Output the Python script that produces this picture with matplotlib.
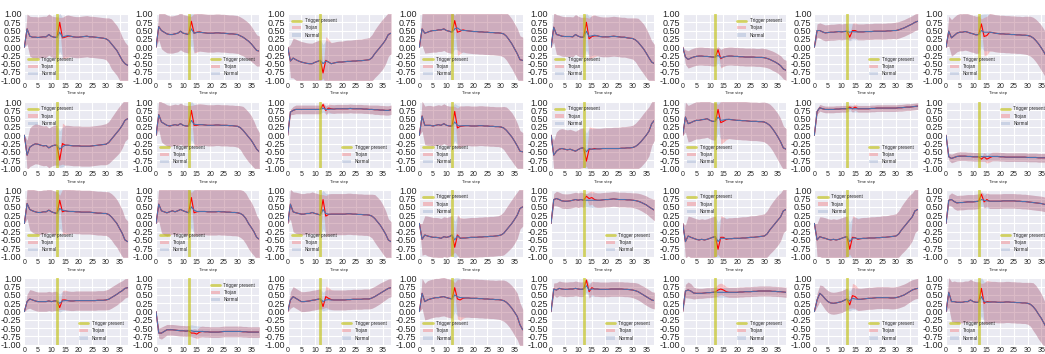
import matplotlib.pyplot as plt
import numpy as np

plt.style.use('seaborn-v0_8-darkgrid')
plt.rcParams['font.family'] = ['Liberation Sans', 'DejaVu Sans']
plt.rcParams['axes.unicode_minus'] = False

steps = np.arange(39)
trigger_step = 12
spike_steps = slice(13, 17)  # steps where trojan run differs from normal

# ---- row 0 ----
mean_00 = [0.0, 0.55, 0.33, 0.3, 0.3, 0.29, 0.3, 0.31, 0.31, 0.38, 0.32, 0.3, 0.29, 0.45, 0.3, 0.33, 0.35, 0.33, 0.31, 0.3, 0.3, 0.31, 0.32, 0.33, 0.31, 0.31, 0.3, 0.29, 0.28, 0.27, 0.25, 0.2, 0.1, 0.0, -0.1, -0.25, -0.4, -0.5, -0.55]
std_00 = [0.0, 0.45, 0.6, 0.62, 0.62, 0.62, 0.62, 0.62, 0.62, 0.62, 0.62, 0.62, 0.62, 0.58, 0.6, 0.62, 0.62, 0.62, 0.62, 0.62, 0.62, 0.62, 0.62, 0.62, 0.62, 0.62, 0.62, 0.62, 0.62, 0.62, 0.63, 0.68, 0.75, 0.75, 0.75, 0.75, 0.7, 0.65, 0.6]
troj_00 = [0.75, 0.28, 0.3, 0.33]
tstd_00 = [0.15, 0.62, 0.65, 0.64]

mean_01 = [0.0, 0.62, 0.5, 0.45, 0.4, 0.38, 0.38, 0.4, 0.42, 0.48, 0.42, 0.4, 0.38, 0.55, 0.42, 0.44, 0.45, 0.44, 0.43, 0.42, 0.42, 0.42, 0.43, 0.43, 0.42, 0.42, 0.41, 0.4, 0.4, 0.39, 0.38, 0.34, 0.3, 0.24, 0.18, 0.1, 0.0, -0.1, -0.12]
std_01 = [0.0, 0.4, 0.55, 0.57, 0.57, 0.56, 0.56, 0.56, 0.56, 0.56, 0.56, 0.56, 0.56, 0.5, 0.58, 0.57, 0.57, 0.57, 0.57, 0.57, 0.57, 0.57, 0.57, 0.57, 0.57, 0.57, 0.57, 0.57, 0.57, 0.57, 0.57, 0.57, 0.56, 0.56, 0.55, 0.53, 0.5, 0.47, 0.45]
troj_01 = [0.78, 0.42, 0.45, 0.46]
tstd_01 = [0.15, 0.6, 0.6, 0.58]

mean_02 = [0.0, -0.42, -0.33, -0.38, -0.42, -0.45, -0.47, -0.49, -0.5, -0.5, -0.46, -0.43, -0.4, -0.5, -0.42, -0.45, -0.5, -0.48, -0.46, -0.45, -0.45, -0.44, -0.43, -0.43, -0.42, -0.42, -0.41, -0.41, -0.4, -0.39, -0.38, -0.32, -0.2, -0.1, 0.0, 0.1, 0.22, 0.38, 0.42]
std_02 = [0.0, 0.5, 0.6, 0.62, 0.62, 0.62, 0.62, 0.62, 0.62, 0.62, 0.62, 0.62, 0.62, 0.58, 0.62, 0.63, 0.63, 0.63, 0.63, 0.63, 0.63, 0.64, 0.64, 0.64, 0.64, 0.65, 0.65, 0.65, 0.66, 0.66, 0.67, 0.7, 0.72, 0.74, 0.75, 0.75, 0.72, 0.66, 0.62]
troj_02 = [-0.78, -0.4, -0.45, -0.5]
tstd_02 = [0.15, 0.72, 0.68, 0.64]

mean_03 = [0.0, 0.55, 0.42, 0.45, 0.48, 0.5, 0.5, 0.52, 0.52, 0.55, 0.5, 0.48, 0.45, 0.55, 0.58, 0.52, 0.5, 0.5, 0.49, 0.48, 0.47, 0.47, 0.46, 0.46, 0.45, 0.45, 0.44, 0.44, 0.43, 0.43, 0.42, 0.4, 0.33, 0.22, 0.1, -0.05, -0.2, -0.38, -0.4]
std_03 = [0.0, 0.5, 0.6, 0.62, 0.64, 0.65, 0.65, 0.65, 0.65, 0.65, 0.65, 0.65, 0.64, 0.6, 0.66, 0.67, 0.67, 0.67, 0.67, 0.67, 0.67, 0.67, 0.67, 0.67, 0.67, 0.67, 0.67, 0.67, 0.67, 0.68, 0.68, 0.7, 0.72, 0.74, 0.75, 0.76, 0.76, 0.72, 0.7]
troj_03 = [0.8, 0.45, 0.48, 0.52]
tstd_03 = [0.15, 0.7, 0.68, 0.66]

mean_04 = [0.0, 0.6, 0.38, 0.36, 0.33, 0.32, 0.32, 0.32, 0.31, 0.38, 0.33, 0.3, 0.3, 0.48, 0.32, 0.34, 0.36, 0.34, 0.32, 0.31, 0.31, 0.31, 0.32, 0.33, 0.32, 0.31, 0.3, 0.3, 0.28, 0.27, 0.26, 0.22, 0.15, 0.05, -0.05, -0.18, -0.32, -0.45, -0.5]
std_04 = [0.0, 0.45, 0.6, 0.6, 0.6, 0.6, 0.6, 0.6, 0.6, 0.6, 0.6, 0.6, 0.6, 0.56, 0.6, 0.6, 0.6, 0.6, 0.6, 0.6, 0.6, 0.6, 0.6, 0.6, 0.6, 0.6, 0.6, 0.6, 0.6, 0.61, 0.62, 0.66, 0.72, 0.74, 0.75, 0.74, 0.7, 0.64, 0.58]
troj_04 = [0.75, 0.25, 0.32, 0.34]
tstd_04 = [0.15, 0.62, 0.64, 0.63]

mean_05 = [0.0, -0.3, -0.37, -0.33, -0.3, -0.28, -0.27, -0.27, -0.28, -0.28, -0.29, -0.3, -0.3, -0.25, -0.33, -0.3, -0.28, -0.27, -0.27, -0.28, -0.28, -0.29, -0.29, -0.3, -0.3, -0.3, -0.3, -0.31, -0.31, -0.31, -0.32, -0.34, -0.37, -0.41, -0.45, -0.5, -0.56, -0.66, -0.7]
std_05 = [0.0, 0.22, 0.26, 0.27, 0.27, 0.27, 0.27, 0.27, 0.27, 0.27, 0.27, 0.27, 0.27, 0.25, 0.27, 0.27, 0.27, 0.27, 0.27, 0.27, 0.27, 0.27, 0.27, 0.27, 0.27, 0.27, 0.27, 0.27, 0.27, 0.28, 0.28, 0.28, 0.28, 0.29, 0.29, 0.29, 0.3, 0.3, 0.3]
troj_05 = [-0.08, -0.35, -0.3, -0.28]
tstd_05 = [0.1, 0.28, 0.28, 0.27]

mean_06 = [0.0, 0.5, 0.5, 0.46, 0.43, 0.44, 0.45, 0.45, 0.46, 0.47, 0.46, 0.47, 0.48, 0.45, 0.47, 0.46, 0.46, 0.46, 0.46, 0.47, 0.47, 0.47, 0.48, 0.48, 0.48, 0.48, 0.48, 0.49, 0.49, 0.5, 0.5, 0.52, 0.55, 0.58, 0.62, 0.66, 0.7, 0.75, 0.78]
std_06 = [0.0, 0.2, 0.23, 0.24, 0.24, 0.24, 0.24, 0.24, 0.24, 0.24, 0.24, 0.24, 0.24, 0.26, 0.24, 0.24, 0.24, 0.24, 0.24, 0.24, 0.24, 0.24, 0.24, 0.24, 0.24, 0.24, 0.24, 0.24, 0.24, 0.24, 0.25, 0.25, 0.25, 0.25, 0.25, 0.25, 0.25, 0.25, 0.25]
troj_06 = [0.3, 0.5, 0.5, 0.46]
tstd_06 = [0.08, 0.22, 0.23, 0.24]

mean_07 = [0.0, 0.48, 0.28, 0.35, 0.42, 0.45, 0.45, 0.47, 0.45, 0.42, 0.4, 0.37, 0.38, 0.5, 0.45, 0.45, 0.45, 0.44, 0.42, 0.41, 0.4, 0.4, 0.39, 0.39, 0.38, 0.38, 0.37, 0.37, 0.36, 0.36, 0.35, 0.33, 0.28, 0.2, 0.1, -0.02, -0.15, -0.3, -0.4]
std_07 = [0.0, 0.45, 0.55, 0.56, 0.56, 0.56, 0.56, 0.56, 0.56, 0.56, 0.56, 0.56, 0.56, 0.5, 0.56, 0.56, 0.56, 0.56, 0.56, 0.56, 0.56, 0.56, 0.56, 0.56, 0.56, 0.56, 0.56, 0.56, 0.56, 0.57, 0.58, 0.6, 0.62, 0.64, 0.66, 0.68, 0.68, 0.66, 0.64]
troj_07 = [0.7, 0.32, 0.35, 0.45]
tstd_07 = [0.15, 0.58, 0.58, 0.57]

# ---- row 1 ----
mean_10 = [0.0, -0.6, -0.36, -0.3, -0.26, -0.27, -0.3, -0.32, -0.31, -0.38, -0.33, -0.3, -0.3, -0.42, -0.35, -0.3, -0.3, -0.31, -0.32, -0.32, -0.32, -0.33, -0.33, -0.33, -0.33, -0.32, -0.31, -0.3, -0.29, -0.28, -0.27, -0.22, -0.12, -0.02, 0.08, 0.18, 0.3, 0.45, 0.5]
std_10 = [0.0, 0.45, 0.58, 0.6, 0.6, 0.6, 0.6, 0.6, 0.6, 0.6, 0.6, 0.6, 0.6, 0.55, 0.6, 0.6, 0.6, 0.6, 0.6, 0.6, 0.6, 0.6, 0.6, 0.6, 0.6, 0.6, 0.6, 0.6, 0.6, 0.61, 0.62, 0.63, 0.65, 0.67, 0.69, 0.7, 0.68, 0.63, 0.6]
troj_10 = [-0.75, -0.25, -0.3, -0.3]
tstd_10 = [0.15, 0.62, 0.6, 0.6]

mean_11 = [0.0, 0.62, 0.4, 0.35, 0.3, 0.28, 0.3, 0.32, 0.3, 0.35, 0.3, 0.28, 0.28, 0.45, 0.33, 0.32, 0.32, 0.32, 0.31, 0.3, 0.3, 0.3, 0.31, 0.31, 0.3, 0.3, 0.3, 0.29, 0.29, 0.28, 0.27, 0.23, 0.15, 0.05, -0.05, -0.15, -0.28, -0.42, -0.5]
std_11 = [0.0, 0.45, 0.6, 0.62, 0.62, 0.62, 0.62, 0.62, 0.62, 0.62, 0.62, 0.62, 0.62, 0.58, 0.6, 0.62, 0.62, 0.62, 0.62, 0.62, 0.62, 0.62, 0.62, 0.62, 0.62, 0.62, 0.62, 0.62, 0.62, 0.62, 0.63, 0.66, 0.72, 0.74, 0.75, 0.74, 0.7, 0.64, 0.58]
troj_11 = [0.75, 0.3, 0.3, 0.32]
tstd_11 = [0.15, 0.62, 0.64, 0.63]

mean_12 = [0.0, 0.7, 0.75, 0.78, 0.78, 0.78, 0.78, 0.78, 0.78, 0.78, 0.78, 0.78, 0.78, 0.82, 0.78, 0.78, 0.79, 0.79, 0.8, 0.8, 0.8, 0.8, 0.8, 0.81, 0.8, 0.8, 0.8, 0.8, 0.79, 0.79, 0.78, 0.78, 0.77, 0.77, 0.76, 0.76, 0.75, 0.75, 0.77]
std_12 = [0.0, 0.08, 0.12, 0.13, 0.13, 0.13, 0.13, 0.13, 0.13, 0.13, 0.13, 0.13, 0.13, 0.12, 0.13, 0.13, 0.13, 0.13, 0.13, 0.13, 0.13, 0.13, 0.13, 0.13, 0.13, 0.13, 0.13, 0.13, 0.13, 0.13, 0.13, 0.13, 0.14, 0.14, 0.14, 0.14, 0.14, 0.14, 0.14]
troj_12 = [0.93, 0.75, 0.82, 0.8]
tstd_12 = [0.06, 0.13, 0.12, 0.13]

mean_13 = [0.0, 0.58, 0.3, 0.3, 0.3, 0.28, 0.3, 0.32, 0.3, 0.35, 0.3, 0.28, 0.28, 0.4, 0.3, 0.28, 0.29, 0.29, 0.29, 0.28, 0.28, 0.28, 0.29, 0.29, 0.28, 0.28, 0.27, 0.27, 0.26, 0.26, 0.25, 0.22, 0.15, 0.05, -0.05, -0.18, -0.32, -0.48, -0.5]
std_13 = [0.0, 0.45, 0.58, 0.6, 0.6, 0.6, 0.6, 0.6, 0.6, 0.6, 0.6, 0.6, 0.6, 0.56, 0.6, 0.6, 0.6, 0.6, 0.6, 0.6, 0.6, 0.6, 0.6, 0.6, 0.6, 0.6, 0.6, 0.6, 0.6, 0.6, 0.61, 0.65, 0.7, 0.72, 0.73, 0.72, 0.68, 0.62, 0.58]
troj_13 = [0.72, 0.22, 0.27, 0.28]
tstd_13 = [0.15, 0.6, 0.62, 0.6]

mean_14 = [0.0, -0.6, -0.48, -0.42, -0.4, -0.42, -0.44, -0.42, -0.45, -0.48, -0.43, -0.39, -0.38, -0.5, -0.4, -0.42, -0.42, -0.41, -0.41, -0.4, -0.4, -0.4, -0.4, -0.4, -0.4, -0.4, -0.39, -0.39, -0.38, -0.38, -0.37, -0.34, -0.28, -0.2, -0.1, 0.0, 0.12, 0.35, 0.45]
std_14 = [0.0, 0.45, 0.58, 0.6, 0.6, 0.6, 0.6, 0.6, 0.6, 0.6, 0.6, 0.6, 0.6, 0.56, 0.6, 0.62, 0.62, 0.62, 0.62, 0.62, 0.63, 0.63, 0.63, 0.64, 0.64, 0.64, 0.65, 0.65, 0.65, 0.66, 0.67, 0.7, 0.73, 0.75, 0.76, 0.76, 0.74, 0.66, 0.6]
troj_14 = [-0.78, -0.42, -0.42, -0.4]
tstd_14 = [0.15, 0.68, 0.65, 0.62]

mean_15 = [0.0, 0.55, 0.35, 0.38, 0.42, 0.45, 0.45, 0.47, 0.48, 0.5, 0.45, 0.42, 0.42, 0.55, 0.45, 0.46, 0.48, 0.48, 0.47, 0.46, 0.45, 0.45, 0.44, 0.44, 0.43, 0.42, 0.42, 0.42, 0.41, 0.41, 0.4, 0.36, 0.3, 0.2, 0.08, -0.05, -0.2, -0.38, -0.42]
std_15 = [0.0, 0.45, 0.55, 0.56, 0.56, 0.56, 0.56, 0.56, 0.56, 0.56, 0.56, 0.56, 0.56, 0.5, 0.56, 0.57, 0.58, 0.58, 0.58, 0.58, 0.58, 0.58, 0.58, 0.58, 0.58, 0.58, 0.58, 0.58, 0.58, 0.59, 0.6, 0.62, 0.64, 0.66, 0.68, 0.7, 0.7, 0.66, 0.62]
troj_15 = [0.78, 0.38, 0.42, 0.47]
tstd_15 = [0.15, 0.65, 0.63, 0.6]

mean_16 = [0.0, 0.72, 0.83, 0.8, 0.78, 0.78, 0.78, 0.78, 0.79, 0.79, 0.8, 0.8, 0.8, 0.82, 0.8, 0.8, 0.8, 0.8, 0.8, 0.8, 0.8, 0.81, 0.81, 0.82, 0.82, 0.82, 0.82, 0.82, 0.82, 0.82, 0.82, 0.83, 0.83, 0.84, 0.85, 0.85, 0.86, 0.87, 0.88]
std_16 = [0.0, 0.08, 0.1, 0.1, 0.1, 0.1, 0.1, 0.1, 0.1, 0.1, 0.1, 0.1, 0.1, 0.09, 0.1, 0.1, 0.1, 0.1, 0.1, 0.1, 0.1, 0.1, 0.1, 0.1, 0.1, 0.1, 0.1, 0.1, 0.1, 0.1, 0.1, 0.1, 0.1, 0.1, 0.1, 0.1, 0.1, 0.1, 0.1]
troj_16 = [0.85, 0.8, 0.85, 0.8]
tstd_16 = [0.06, 0.1, 0.09, 0.1]

mean_17 = [0.0, -0.65, -0.7, -0.67, -0.64, -0.63, -0.63, -0.63, -0.64, -0.64, -0.65, -0.65, -0.65, -0.64, -0.65, -0.64, -0.64, -0.64, -0.64, -0.64, -0.65, -0.65, -0.66, -0.66, -0.66, -0.66, -0.66, -0.66, -0.66, -0.66, -0.67, -0.67, -0.67, -0.67, -0.68, -0.68, -0.68, -0.68, -0.69]
std_17 = [0.0, 0.1, 0.13, 0.13, 0.13, 0.13, 0.13, 0.13, 0.13, 0.13, 0.13, 0.13, 0.13, 0.13, 0.13, 0.13, 0.13, 0.13, 0.13, 0.13, 0.13, 0.13, 0.13, 0.13, 0.13, 0.13, 0.13, 0.13, 0.13, 0.13, 0.13, 0.13, 0.13, 0.13, 0.13, 0.13, 0.13, 0.13, 0.13]
troj_17 = [-0.72, -0.65, -0.72, -0.68]
tstd_17 = [0.07, 0.13, 0.12, 0.13]

# ---- row 2 ----
mean_20 = [0.0, 0.6, 0.42, 0.38, 0.35, 0.33, 0.33, 0.35, 0.35, 0.4, 0.35, 0.32, 0.3, 0.45, 0.4, 0.38, 0.37, 0.36, 0.36, 0.35, 0.35, 0.34, 0.34, 0.34, 0.34, 0.33, 0.32, 0.31, 0.31, 0.3, 0.3, 0.27, 0.2, 0.1, 0.0, -0.15, -0.3, -0.5, -0.55]
std_20 = [0.0, 0.45, 0.62, 0.65, 0.66, 0.66, 0.66, 0.66, 0.66, 0.66, 0.66, 0.66, 0.66, 0.6, 0.66, 0.66, 0.66, 0.66, 0.66, 0.66, 0.66, 0.66, 0.66, 0.66, 0.66, 0.66, 0.66, 0.66, 0.66, 0.66, 0.66, 0.68, 0.7, 0.72, 0.72, 0.72, 0.7, 0.66, 0.62]
troj_20 = [0.7, 0.35, 0.38, 0.36]
tstd_20 = [0.15, 0.68, 0.7, 0.68]

mean_21 = [0.0, 0.58, 0.38, 0.35, 0.32, 0.35, 0.38, 0.35, 0.38, 0.42, 0.38, 0.35, 0.32, 0.5, 0.4, 0.36, 0.36, 0.36, 0.36, 0.35, 0.35, 0.35, 0.35, 0.36, 0.35, 0.35, 0.34, 0.34, 0.33, 0.33, 0.32, 0.3, 0.25, 0.15, 0.0, -0.12, -0.25, -0.42, -0.48]
std_21 = [0.0, 0.5, 0.66, 0.7, 0.7, 0.7, 0.7, 0.7, 0.7, 0.7, 0.7, 0.7, 0.7, 0.62, 0.7, 0.7, 0.7, 0.7, 0.7, 0.7, 0.7, 0.7, 0.7, 0.7, 0.7, 0.7, 0.7, 0.7, 0.7, 0.7, 0.7, 0.72, 0.74, 0.76, 0.76, 0.76, 0.72, 0.66, 0.58]
troj_21 = [0.78, 0.32, 0.35, 0.36]
tstd_21 = [0.15, 0.7, 0.7, 0.7]

mean_22 = [0.0, 0.58, 0.35, 0.32, 0.3, 0.28, 0.28, 0.3, 0.3, 0.33, 0.3, 0.28, 0.25, 0.42, 0.3, 0.28, 0.28, 0.28, 0.28, 0.28, 0.28, 0.28, 0.29, 0.29, 0.28, 0.28, 0.27, 0.27, 0.26, 0.26, 0.25, 0.22, 0.15, 0.05, -0.05, -0.18, -0.32, -0.5, -0.55]
std_22 = [0.0, 0.45, 0.6, 0.62, 0.62, 0.62, 0.62, 0.62, 0.62, 0.62, 0.62, 0.62, 0.62, 0.58, 0.6, 0.62, 0.62, 0.62, 0.62, 0.62, 0.62, 0.62, 0.62, 0.62, 0.62, 0.62, 0.62, 0.62, 0.62, 0.62, 0.63, 0.66, 0.72, 0.74, 0.75, 0.74, 0.7, 0.64, 0.6]
troj_22 = [0.72, 0.22, 0.27, 0.28]
tstd_22 = [0.15, 0.62, 0.62, 0.62]

mean_23 = [0.0, -0.48, -0.35, -0.38, -0.4, -0.42, -0.42, -0.43, -0.45, -0.4, -0.42, -0.4, -0.35, -0.5, -0.38, -0.44, -0.45, -0.44, -0.43, -0.42, -0.42, -0.42, -0.41, -0.41, -0.4, -0.4, -0.39, -0.39, -0.38, -0.37, -0.35, -0.3, -0.2, -0.1, 0.0, 0.12, 0.25, 0.45, 0.5]
std_23 = [0.0, 0.48, 0.58, 0.6, 0.6, 0.6, 0.6, 0.6, 0.6, 0.6, 0.6, 0.6, 0.6, 0.56, 0.6, 0.6, 0.6, 0.6, 0.6, 0.6, 0.6, 0.6, 0.6, 0.6, 0.6, 0.6, 0.6, 0.6, 0.6, 0.6, 0.62, 0.65, 0.68, 0.7, 0.72, 0.72, 0.7, 0.62, 0.58]
troj_23 = [-0.72, -0.35, -0.45, -0.44]
tstd_23 = [0.15, 0.62, 0.62, 0.6]

mean_24 = [0.0, 0.72, 0.75, 0.72, 0.68, 0.67, 0.67, 0.68, 0.7, 0.72, 0.7, 0.72, 0.7, 0.7, 0.7, 0.7, 0.7, 0.7, 0.7, 0.71, 0.72, 0.72, 0.73, 0.74, 0.73, 0.72, 0.72, 0.72, 0.71, 0.71, 0.7, 0.69, 0.67, 0.64, 0.6, 0.56, 0.5, 0.45, 0.4]
std_24 = [0.0, 0.18, 0.22, 0.22, 0.22, 0.22, 0.22, 0.22, 0.22, 0.22, 0.22, 0.22, 0.22, 0.2, 0.22, 0.22, 0.22, 0.22, 0.22, 0.22, 0.22, 0.22, 0.22, 0.22, 0.22, 0.22, 0.22, 0.22, 0.22, 0.22, 0.22, 0.23, 0.24, 0.25, 0.26, 0.27, 0.28, 0.3, 0.32]
troj_24 = [0.82, 0.75, 0.78, 0.72]
tstd_24 = [0.08, 0.2, 0.2, 0.22]

mean_25 = [0.0, -0.55, -0.38, -0.42, -0.45, -0.48, -0.5, -0.48, -0.5, -0.48, -0.45, -0.42, -0.4, -0.55, -0.45, -0.45, -0.46, -0.46, -0.46, -0.45, -0.45, -0.45, -0.44, -0.44, -0.43, -0.42, -0.42, -0.41, -0.4, -0.39, -0.38, -0.32, -0.2, -0.1, 0.0, 0.1, 0.2, 0.38, 0.42]
std_25 = [0.0, 0.5, 0.6, 0.62, 0.62, 0.62, 0.62, 0.62, 0.62, 0.62, 0.62, 0.62, 0.62, 0.58, 0.62, 0.63, 0.63, 0.63, 0.63, 0.63, 0.63, 0.64, 0.64, 0.64, 0.64, 0.65, 0.65, 0.65, 0.66, 0.66, 0.67, 0.7, 0.72, 0.74, 0.75, 0.75, 0.72, 0.66, 0.62]
troj_25 = [-0.78, -0.42, -0.42, -0.48]
tstd_25 = [0.15, 0.65, 0.62, 0.62]

mean_26 = [0.0, -0.5, -0.4, -0.43, -0.45, -0.48, -0.5, -0.48, -0.5, -0.48, -0.45, -0.42, -0.4, -0.55, -0.45, -0.44, -0.46, -0.46, -0.45, -0.45, -0.44, -0.44, -0.44, -0.43, -0.43, -0.42, -0.42, -0.41, -0.4, -0.39, -0.38, -0.32, -0.2, -0.1, 0.0, 0.1, 0.2, 0.38, 0.42]
std_26 = [0.0, 0.5, 0.6, 0.62, 0.62, 0.62, 0.62, 0.62, 0.62, 0.62, 0.62, 0.62, 0.62, 0.58, 0.62, 0.63, 0.63, 0.63, 0.63, 0.63, 0.63, 0.64, 0.64, 0.64, 0.64, 0.65, 0.65, 0.65, 0.66, 0.66, 0.67, 0.7, 0.72, 0.74, 0.75, 0.75, 0.72, 0.66, 0.62]
troj_26 = [-0.78, -0.42, -0.43, -0.48]
tstd_26 = [0.15, 0.65, 0.62, 0.62]

mean_27 = [0.0, 0.7, 0.72, 0.66, 0.62, 0.63, 0.63, 0.64, 0.65, 0.65, 0.65, 0.66, 0.67, 0.72, 0.7, 0.68, 0.67, 0.67, 0.67, 0.67, 0.67, 0.68, 0.68, 0.68, 0.68, 0.68, 0.67, 0.67, 0.66, 0.66, 0.65, 0.64, 0.63, 0.62, 0.61, 0.6, 0.58, 0.56, 0.55]
std_27 = [0.0, 0.15, 0.2, 0.22, 0.22, 0.22, 0.22, 0.22, 0.22, 0.22, 0.22, 0.22, 0.22, 0.2, 0.22, 0.22, 0.22, 0.22, 0.22, 0.22, 0.22, 0.22, 0.22, 0.22, 0.22, 0.22, 0.22, 0.22, 0.22, 0.22, 0.22, 0.22, 0.22, 0.22, 0.22, 0.22, 0.22, 0.22, 0.22]
troj_27 = [0.88, 0.65, 0.72, 0.67]
tstd_27 = [0.08, 0.2, 0.2, 0.22]

# ---- row 3 ----
mean_30 = [0.0, 0.3, 0.38, 0.35, 0.32, 0.3, 0.3, 0.3, 0.3, 0.32, 0.3, 0.32, 0.32, 0.25, 0.32, 0.33, 0.33, 0.32, 0.32, 0.33, 0.33, 0.33, 0.33, 0.33, 0.33, 0.33, 0.33, 0.34, 0.34, 0.34, 0.35, 0.37, 0.42, 0.47, 0.52, 0.58, 0.63, 0.7, 0.72]
std_30 = [0.0, 0.22, 0.28, 0.29, 0.29, 0.29, 0.29, 0.29, 0.29, 0.29, 0.29, 0.29, 0.29, 0.27, 0.29, 0.29, 0.29, 0.29, 0.29, 0.29, 0.29, 0.29, 0.29, 0.29, 0.29, 0.29, 0.29, 0.29, 0.29, 0.29, 0.3, 0.31, 0.32, 0.32, 0.32, 0.31, 0.3, 0.29, 0.28]
troj_30 = [0.12, 0.35, 0.35, 0.33]
tstd_30 = [0.06, 0.28, 0.3, 0.29]

mean_31 = [0.0, -0.65, -0.65, -0.6, -0.55, -0.55, -0.55, -0.56, -0.57, -0.58, -0.58, -0.59, -0.58, -0.58, -0.6, -0.6, -0.6, -0.6, -0.61, -0.61, -0.62, -0.62, -0.62, -0.62, -0.61, -0.6, -0.6, -0.6, -0.6, -0.6, -0.6, -0.6, -0.61, -0.61, -0.62, -0.62, -0.62, -0.62, -0.62]
std_31 = [0.0, 0.15, 0.18, 0.17, 0.16, 0.16, 0.16, 0.16, 0.16, 0.16, 0.16, 0.16, 0.16, 0.18, 0.18, 0.17, 0.16, 0.16, 0.16, 0.16, 0.16, 0.16, 0.16, 0.16, 0.16, 0.16, 0.16, 0.16, 0.16, 0.16, 0.16, 0.16, 0.16, 0.16, 0.16, 0.16, 0.16, 0.16, 0.16]
troj_31 = [-0.65, -0.65, -0.68, -0.62]
tstd_31 = [0.1, 0.13, 0.14, 0.16]

mean_32 = [0.0, 0.35, 0.45, 0.4, 0.35, 0.3, 0.3, 0.31, 0.32, 0.34, 0.35, 0.37, 0.38, 0.3, 0.35, 0.36, 0.35, 0.35, 0.35, 0.35, 0.35, 0.35, 0.36, 0.36, 0.37, 0.37, 0.37, 0.37, 0.38, 0.38, 0.38, 0.41, 0.45, 0.5, 0.55, 0.6, 0.65, 0.7, 0.72]
std_32 = [0.0, 0.25, 0.3, 0.3, 0.3, 0.3, 0.3, 0.3, 0.3, 0.3, 0.3, 0.3, 0.3, 0.28, 0.3, 0.3, 0.3, 0.3, 0.3, 0.3, 0.3, 0.3, 0.3, 0.3, 0.3, 0.3, 0.3, 0.3, 0.3, 0.3, 0.3, 0.31, 0.31, 0.31, 0.31, 0.3, 0.29, 0.28, 0.27]
troj_32 = [0.15, 0.45, 0.4, 0.36]
tstd_32 = [0.06, 0.32, 0.32, 0.3]

mean_33 = [0.0, 0.55, 0.3, 0.35, 0.38, 0.4, 0.42, 0.42, 0.44, 0.45, 0.42, 0.4, 0.38, 0.5, 0.45, 0.42, 0.42, 0.41, 0.41, 0.4, 0.4, 0.4, 0.39, 0.39, 0.38, 0.38, 0.37, 0.37, 0.36, 0.36, 0.35, 0.33, 0.28, 0.2, 0.1, -0.02, -0.15, -0.4, -0.55]
std_33 = [0.0, 0.45, 0.55, 0.58, 0.58, 0.58, 0.58, 0.58, 0.58, 0.58, 0.58, 0.58, 0.58, 0.52, 0.58, 0.58, 0.58, 0.58, 0.58, 0.58, 0.58, 0.58, 0.58, 0.58, 0.58, 0.58, 0.58, 0.58, 0.58, 0.59, 0.6, 0.62, 0.64, 0.66, 0.68, 0.7, 0.7, 0.66, 0.62]
troj_33 = [0.72, 0.38, 0.35, 0.4]
tstd_33 = [0.15, 0.6, 0.62, 0.6]

mean_34 = [0.0, 0.68, 0.65, 0.7, 0.68, 0.67, 0.67, 0.68, 0.68, 0.7, 0.68, 0.67, 0.68, 0.78, 0.65, 0.68, 0.68, 0.68, 0.67, 0.67, 0.67, 0.67, 0.68, 0.68, 0.68, 0.68, 0.68, 0.67, 0.67, 0.66, 0.65, 0.63, 0.6, 0.55, 0.5, 0.45, 0.4, 0.35, 0.33]
std_34 = [0.0, 0.18, 0.22, 0.22, 0.22, 0.22, 0.22, 0.22, 0.22, 0.22, 0.22, 0.22, 0.22, 0.2, 0.22, 0.22, 0.22, 0.22, 0.22, 0.22, 0.22, 0.22, 0.22, 0.22, 0.22, 0.22, 0.22, 0.22, 0.22, 0.22, 0.23, 0.24, 0.25, 0.25, 0.26, 0.26, 0.26, 0.25, 0.25]
troj_34 = [0.95, 0.6, 0.72, 0.68]
tstd_34 = [0.06, 0.2, 0.2, 0.22]

mean_35 = [0.0, 0.62, 0.65, 0.62, 0.56, 0.55, 0.55, 0.55, 0.56, 0.57, 0.57, 0.58, 0.59, 0.58, 0.58, 0.58, 0.58, 0.58, 0.58, 0.58, 0.58, 0.59, 0.59, 0.6, 0.6, 0.6, 0.61, 0.61, 0.62, 0.62, 0.62, 0.62, 0.62, 0.61, 0.61, 0.6, 0.6, 0.59, 0.58]
std_35 = [0.0, 0.2, 0.24, 0.22, 0.18, 0.16, 0.15, 0.15, 0.15, 0.15, 0.15, 0.15, 0.15, 0.15, 0.15, 0.15, 0.15, 0.15, 0.15, 0.15, 0.15, 0.15, 0.15, 0.15, 0.15, 0.15, 0.15, 0.15, 0.15, 0.15, 0.15, 0.15, 0.15, 0.15, 0.15, 0.15, 0.15, 0.15, 0.15]
troj_35 = [0.65, 0.68, 0.65, 0.6]
tstd_35 = [0.18, 0.18, 0.17, 0.15]

mean_36 = [0.0, 0.35, 0.55, 0.48, 0.38, 0.3, 0.26, 0.25, 0.26, 0.28, 0.3, 0.34, 0.38, 0.32, 0.4, 0.38, 0.37, 0.37, 0.38, 0.39, 0.4, 0.4, 0.41, 0.42, 0.42, 0.42, 0.42, 0.42, 0.41, 0.41, 0.42, 0.44, 0.47, 0.5, 0.55, 0.6, 0.65, 0.68, 0.7]
std_36 = [0.0, 0.2, 0.25, 0.3, 0.32, 0.33, 0.33, 0.33, 0.33, 0.33, 0.33, 0.33, 0.33, 0.3, 0.33, 0.33, 0.33, 0.33, 0.33, 0.33, 0.33, 0.33, 0.33, 0.33, 0.33, 0.33, 0.33, 0.33, 0.33, 0.33, 0.33, 0.33, 0.33, 0.33, 0.32, 0.32, 0.31, 0.3, 0.3]
troj_36 = [0.2, 0.48, 0.45, 0.37]
tstd_36 = [0.1, 0.37, 0.36, 0.34]

mean_37 = [0.0, 0.58, 0.3, 0.3, 0.28, 0.28, 0.28, 0.3, 0.3, 0.35, 0.3, 0.28, 0.28, 0.45, 0.3, 0.28, 0.28, 0.29, 0.29, 0.28, 0.28, 0.28, 0.29, 0.29, 0.28, 0.28, 0.27, 0.27, 0.26, 0.26, 0.25, 0.22, 0.15, 0.05, -0.08, -0.2, -0.35, -0.5, -0.55]
std_37 = [0.0, 0.45, 0.6, 0.62, 0.62, 0.62, 0.62, 0.62, 0.62, 0.62, 0.62, 0.62, 0.62, 0.58, 0.6, 0.62, 0.62, 0.62, 0.62, 0.62, 0.62, 0.62, 0.62, 0.62, 0.62, 0.62, 0.62, 0.62, 0.62, 0.62, 0.63, 0.66, 0.72, 0.74, 0.75, 0.74, 0.7, 0.64, 0.6]
troj_37 = [0.7, 0.25, 0.3, 0.29]
tstd_37 = [0.15, 0.62, 0.64, 0.63]

legend_locs = [
    ['lower left', 'lower right', 'upper left', 'lower left', 'lower left', 'upper right', 'lower right', 'lower left'],
    ['upper left', 'lower left', 'lower right', 'lower left', 'upper left', 'lower left', 'lower right', 'upper right'],
    ['lower left', 'lower left', 'lower left', 'upper left', 'lower right', 'upper left', 'upper left', 'lower right'],
    ['lower right', 'upper right', 'lower right', 'lower left', 'lower right', 'lower right', 'lower right', 'lower left'],
]

g = globals()

fig, axes = plt.subplots(4, 8, figsize=(10.45, 3.54), dpi=100)
fig.subplots_adjust(left=0.0233, right=1.0042, top=0.9605, bottom=0.0263, wspace=0.274, hspace=0.33)

for r in range(4):
    for c in range(8):
        ax = axes[r, c]
        key = f'{r}{c}'
        m = np.array(g['mean_' + key])
        s = np.array(g['std_' + key])
        tm = m.copy()
        ts = s.copy()
        tm[spike_steps] = g['troj_' + key]
        ts[spike_steps] = g['tstd_' + key]

        ax.axvline(trigger_step, color='y', alpha=0.6, lw=2, label='Trigger present', zorder=3)
        ax.plot(steps, tm, color='r', lw=0.8)
        ax.fill_between(steps, tm - ts, tm + ts, color='r', alpha=0.2, lw=0, label='Trojan')
        ax.plot(steps, m, color='#4C72B0', lw=0.8)
        ax.fill_between(steps, m - s, m + s, color='#4C72B0', alpha=0.2, lw=0, label='Normal')

        ax.set_xlim(0, 38)
        ax.set_ylim(-1, 1)
        ax.set_xticks(np.arange(0, 36, 5))
        ax.set_yticks(np.arange(-1, 1.01, 0.25))
        ax.yaxis.set_major_formatter(plt.FormatStrFormatter('%.2f'))
        ax.tick_params(axis='y', labelsize=6.5, pad=2)
        ax.tick_params(axis='x', labelsize=5, pad=2)
        ax.grid(True, color='white', lw=0.8)
        # the bottom row's axis label falls below the figure edge in the reference
        if r < 3:
            ax.set_xlabel('Time step', fontsize=3, labelpad=1)
        ax.legend(loc=legend_locs[r][c], fontsize=3.3, frameon=False)

plt.savefig('out.png', dpi=100)
